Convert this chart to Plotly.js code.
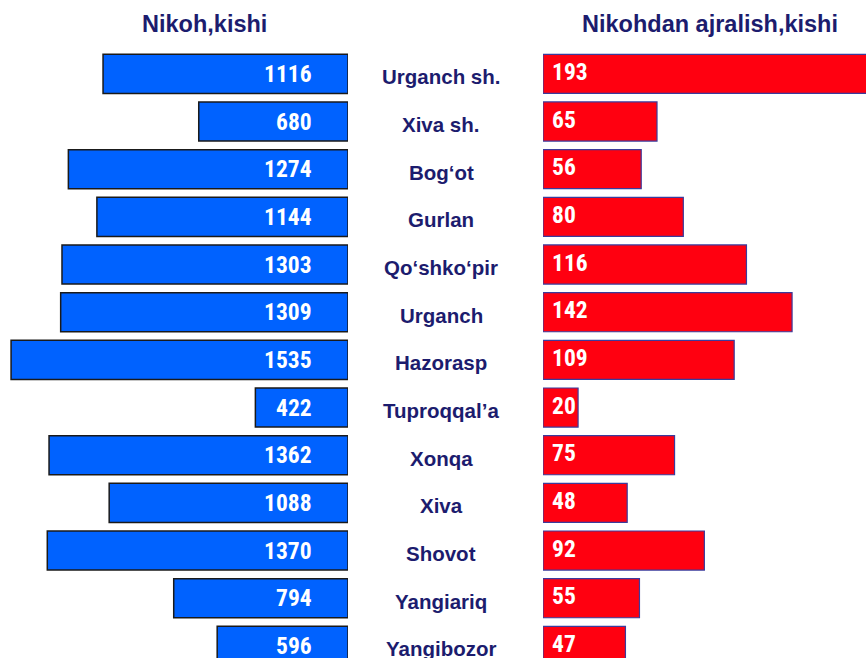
<!DOCTYPE html>
<html>
<head>
<meta charset="utf-8">
<script src="https://cdn.plot.ly/plotly-3.0.1.min.js"></script>
<style>html,body{margin:0;padding:0;background:#fff;}#chart{width:866px;height:658px;}</style>
</head>
<body>
<div id="chart"></div>
<script>
const districts = ["Urganch sh.", "Xiva sh.", "Bog‘ot", "Gurlan", "Qo‘shko‘pir", "Urganch", "Hazorasp", "Tuproqqal’a", "Xonqa", "Xiva", "Shovot", "Yangiariq", "Yangibozor"];
const marriages = [1116, 680, 1274, 1144, 1303, 1309, 1535, 422, 1362, 1088, 1370, 794, 596];
const divorces = [193, 65, 56, 80, 116, 142, 109, 20, 75, 48, 92, 55, 47];
const leftTitle = "Nikoh,kishi";
const rightTitle = "Nikohdan ajralish,kishi";

const W = 866, H = 658;
const navy = "#1c1c6e";
const numFont = {family: "Roboto Condensed, Liberation Sans Narrow, DejaVu Sans Condensed, Arial Narrow, sans-serif", size: 23.5, color: "#ffffff", weight: 700};
const labFont = {family: "Liberation Sans, Arial, sans-serif", size: 20.5, color: navy, weight: 700};
const titleFont = {family: "Liberation Sans, Arial, sans-serif", size: 23.5, color: navy, weight: 700};

const traces = [
  {type: "bar", orientation: "h", x: marriages, y: districts, xaxis: "x", yaxis: "y",
   marker: {color: "#0062ff", line: {color: "#1a1a1a", width: 1.5}}, width: 0.82, hoverinfo: "none", cliponaxis: true},
  {type: "bar", orientation: "h", x: divorces, y: districts, xaxis: "x2", yaxis: "y",
   marker: {color: "#ff0010", line: {color: "#3b3b9c", width: 1.2}}, width: 0.82, hoverinfo: "none", cliponaxis: true}
];

const annotations = [];
districts.forEach((d, i) => {
  annotations.push({xref: "x", yref: "y", x: 0, y: d, text: String(marriages[i]), showarrow: false,
    xanchor: "right", yanchor: "middle", xshift: -34, font: numFont});
  annotations.push({xref: "x2", yref: "y", x: 0, y: d, text: String(divorces[i]), showarrow: false,
    xanchor: "left", yanchor: "middle", xshift: 7, yshift: 2, font: numFont});
  annotations.push({xref: "paper", yref: "y", x: 441 / W, y: d, text: d, showarrow: false,
    xanchor: "center", yanchor: "middle", yshift: -3, font: labFont});
});
annotations.push({xref: "paper", yref: "paper", x: 204 / W, y: 1, xanchor: "center", yanchor: "middle", yshift: 26,
  text: leftTitle, showarrow: false, font: titleFont});
annotations.push({xref: "paper", yref: "paper", x: 710 / W, y: 1, xanchor: "center", yanchor: "middle", yshift: 26,
  text: rightTitle, showarrow: false, font: titleFont});

const plotTop = 50;
const pxPerCat = 47.67;
const yBottom = -0.5 + (H - plotTop) / pxPerCat;

const layout = {
  width: W, height: H,
  margin: {l: 0, r: 0, t: plotTop, b: 0, pad: 0},
  paper_bgcolor: "#ffffff", plot_bgcolor: "rgba(0,0,0,0)",
  showlegend: false,
  bargap: 0.18,
  xaxis: {domain: [0, 348 / W], range: [348 / 0.2195, 0], showgrid: false, zeroline: false,
          showticklabels: false, showline: false, ticks: ""},
  xaxis2: {domain: [543 / W, 1], range: [0, (W - 543) / 1.754], showgrid: false, zeroline: false,
           showticklabels: false, showline: false, ticks: ""},
  yaxis: {type: "category", range: [yBottom, -0.5], showgrid: false, zeroline: false,
          showticklabels: false, showline: false, ticks: ""},
  annotations: annotations
};

Plotly.newPlot("chart", traces, layout, {staticPlot: true, displayModeBar: false});
</script>
</body>
</html>
